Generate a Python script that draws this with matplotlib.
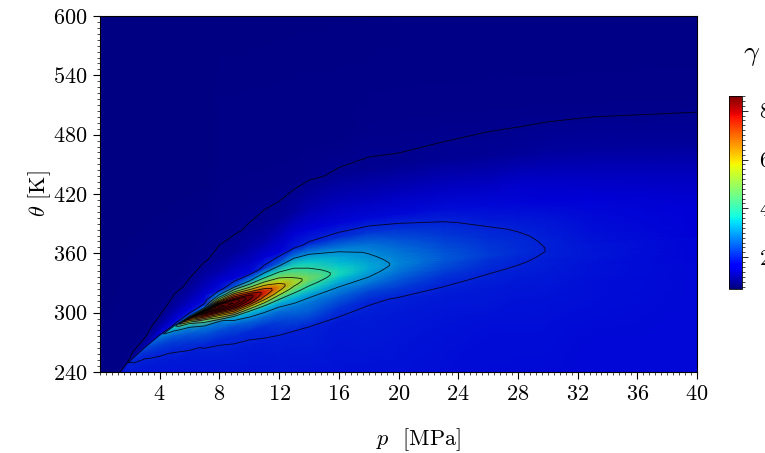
import numpy as np
import matplotlib
matplotlib.use("Agg")
import matplotlib.pyplot as plt
from matplotlib.colors import ListedColormap, Normalize
from matplotlib.cm import ScalarMappable
from matplotlib.ticker import MultipleLocator

plt.rcParams['font.family'] = 'serif'
plt.rcParams['font.serif'] = ['cmr10', 'DejaVu Serif']
plt.rcParams['mathtext.fontset'] = 'cm'
plt.rcParams['axes.formatter.use_mathtext'] = True

# ---- data ----
# pressure stations [MPa]
p_cols = [0, 1, 1.5, 2, 3, 4, 5, 6, 7, 8, 9, 10, 11, 12, 13, 14, 16, 18, 20, 23, 26, 28, 30, 33, 40]
# saturation / pseudo-critical ridge temperature at each station [K]
theta_ridge = [205, 233, 242, 252, 265, 277, 287, 295, 302, 307, 311, 316, 321, 326, 331, 335,
               341, 346, 350, 355, 359, 361, 363, 366, 372]
# temperature offsets from the ridge [K] (negative = liquid-like side)
theta_offsets = [-150, -100, -70, -50, -35, -24, -16, -10, -6, -3, -1,
                 1, 3, 6, 10, 16, 24, 35, 50, 70, 100, 140, 200, 280, 400]

# gamma along each pressure station, ordered as theta_offsets
g_p0 = [0.93, 0.93, 0.93, 0.93, 0.93, 0.93, 0.93, 0.93, 0.93, 0.93, 0.93,
        0.93, 0.93, 0.93, 0.93, 0.93, 0.93, 0.93, 0.92, 0.92, 0.91, 0.90, 0.90, 0.90, 0.90]
g_p1 = [1.90, 1.90, 1.90, 1.90, 1.90, 1.90, 1.90, 1.90, 1.90, 1.90, 1.90,
        0.94, 0.94, 0.93, 0.93, 0.93, 0.93, 0.93, 0.92, 0.92, 0.91, 0.90, 0.90, 0.90, 0.90]
g_p1_5 = [1.85, 1.85, 1.85, 1.86, 1.87, 1.88, 1.88, 1.89, 1.89, 1.90, 1.90,
          0.97, 0.96, 0.95, 0.94, 0.94, 0.93, 0.93, 0.93, 0.92, 0.92, 0.91, 0.90, 0.90, 0.90]
g_p2 = [1.82, 1.83, 1.84, 1.86, 1.88, 1.90, 1.92, 1.94, 1.96, 1.98, 2.02,
        1.02, 0.99, 0.97, 0.95, 0.94, 0.93, 0.93, 0.93, 0.92, 0.92, 0.91, 0.90, 0.90, 0.90]
g_p3 = [1.82, 1.82, 1.83, 1.84, 1.86, 1.90, 1.95, 2.02, 2.13, 2.27, 2.38,
        1.32, 1.20, 1.10, 0.99, 0.96, 0.94, 0.93, 0.93, 0.92, 0.92, 0.91, 0.90, 0.90, 0.90]
g_p4 = [1.82, 1.82, 1.83, 1.85, 1.90, 1.96, 2.07, 2.25, 2.43, 2.62, 2.76,
        1.72, 1.55, 1.38, 1.20, 1.04, 0.96, 0.94, 0.93, 0.92, 0.92, 0.91, 0.90, 0.90, 0.90]
g_p5 = [1.82, 1.82, 1.84, 1.87, 1.93, 2.03, 2.25, 2.55, 2.90, 3.30, 3.75,
        2.08, 1.85, 1.65, 1.45, 1.25, 1.08, 0.97, 0.94, 0.93, 0.92, 0.91, 0.90, 0.90, 0.90]
g_p6 = [1.82, 1.83, 1.85, 1.88, 1.96, 2.20, 2.50, 2.95, 4.00, 6.00, 7.80,
        3.40, 2.20, 1.85, 1.60, 1.40, 1.22, 1.02, 0.96, 0.93, 0.92, 0.91, 0.90, 0.90, 0.90]
g_p7 = [1.82, 1.83, 1.86, 1.92, 2.02, 2.40, 2.85, 4.50, 7.40, 10.5, 14.0,
        5.50, 3.00, 2.10, 1.80, 1.55, 1.37, 1.17, 0.99, 0.95, 0.92, 0.91, 0.90, 0.90, 0.90]
g_p8 = [1.82, 1.85, 1.90, 1.94, 2.03, 2.45, 2.90, 6.00, 9.00, 12.0, 13.6,
        12.3, 8.80, 5.60, 3.30, 1.85, 1.55, 1.25, 1.04, 0.97, 0.95, 0.93, 0.92, 0.91, 0.90]
g_p9 = [1.82, 1.85, 1.90, 1.94, 2.06, 2.45, 3.30, 6.60, 9.30, 11.0, 11.9,
        11.6, 9.40, 7.40, 5.00, 2.50, 1.68, 1.38, 1.08, 0.99, 0.95, 0.93, 0.92, 0.91, 0.90]
g_p10 = [1.82, 1.85, 1.90, 1.94, 2.08, 2.70, 3.40, 6.00, 8.20, 9.00, 9.45,
         9.35, 8.20, 6.50, 4.80, 3.00, 1.75, 1.42, 1.18, 1.01, 0.95, 0.93, 0.92, 0.91, 0.90]
g_p11 = [1.82, 1.85, 1.90, 1.96, 2.15, 2.75, 3.40, 5.35, 6.70, 7.35, 7.65,
         7.60, 7.10, 6.15, 5.00, 3.55, 2.15, 1.60, 1.24, 1.03, 0.96, 0.93, 0.92, 0.91, 0.90]
g_p12 = [1.82, 1.86, 1.92, 1.98, 2.25, 2.75, 3.30, 4.55, 5.55, 6.20, 6.45,
         6.40, 6.10, 5.55, 4.85, 3.85, 2.55, 1.70, 1.38, 1.05, 0.96, 0.93, 0.92, 0.91, 0.90]
g_p13 = [1.82, 1.86, 1.93, 1.99, 2.45, 2.85, 3.35, 4.15, 4.75, 5.15, 5.35,
         5.35, 5.15, 4.80, 4.40, 3.80, 3.00, 1.92, 1.55, 1.15, 0.96, 0.93, 0.92, 0.91, 0.90]
g_p14 = [1.82, 1.86, 1.94, 1.98, 2.50, 2.80, 3.20, 3.80, 4.20, 4.55, 4.70,
         4.70, 4.55, 4.30, 4.00, 3.55, 3.00, 2.05, 1.65, 1.28, 0.99, 0.94, 0.92, 0.91, 0.90]
g_p16 = [1.82, 1.86, 1.88, 1.91, 2.20, 2.60, 2.95, 3.25, 3.50, 3.65, 3.72,
         3.72, 3.65, 3.55, 3.40, 3.20, 2.85, 2.15, 1.72, 1.35, 1.01, 0.94, 0.92, 0.91, 0.90]
g_p18 = [1.82, 1.87, 1.93, 1.94, 2.02, 2.35, 2.75, 3.00, 3.12, 3.20, 3.24,
         3.24, 3.20, 3.15, 3.07, 2.95, 2.70, 2.20, 1.75, 1.35, 1.02, 0.95, 0.92, 0.91, 0.90]
g_p20 = [1.82, 1.85, 1.88, 1.93, 1.99, 2.25, 2.50, 2.68, 2.80, 2.86, 2.90,
         2.90, 2.88, 2.84, 2.78, 2.66, 2.45, 2.12, 1.78, 1.38, 1.02, 0.95, 0.93, 0.92, 0.90]
g_p23 = [1.80, 1.82, 1.85, 1.90, 1.95, 2.04, 2.20, 2.34, 2.42, 2.47, 2.50,
         2.50, 2.49, 2.46, 2.41, 2.33, 2.20, 2.03, 1.80, 1.42, 1.04, 0.95, 0.93, 0.92, 0.90]
g_p26 = [1.79, 1.81, 1.84, 1.88, 1.93, 1.97, 2.03, 2.10, 2.15, 2.20, 2.22,
         2.22, 2.21, 2.19, 2.16, 2.11, 2.04, 1.93, 1.76, 1.42, 1.06, 0.96, 0.93, 0.92, 0.90]
g_p28 = [1.78, 1.80, 1.83, 1.86, 1.90, 1.94, 1.98, 2.02, 2.05, 2.08, 2.10,
         2.10, 2.09, 2.08, 2.06, 2.03, 1.98, 1.90, 1.74, 1.48, 1.08, 0.96, 0.93, 0.92, 0.90]
g_p30 = [1.77, 1.79, 1.82, 1.85, 1.88, 1.91, 1.94, 1.96, 1.97, 1.98, 1.99,
         1.99, 1.99, 1.98, 1.97, 1.95, 1.92, 1.85, 1.70, 1.47, 1.12, 0.96, 0.93, 0.92, 0.90]
g_p33 = [1.76, 1.78, 1.80, 1.82, 1.84, 1.86, 1.87, 1.88, 1.88, 1.88, 1.88,
         1.88, 1.88, 1.87, 1.86, 1.84, 1.81, 1.75, 1.63, 1.43, 1.12, 0.97, 0.93, 0.92, 0.90]
g_p40 = [1.76, 1.77, 1.77, 1.77, 1.76, 1.75, 1.74, 1.73, 1.73, 1.72, 1.72,
         1.72, 1.72, 1.71, 1.70, 1.68, 1.65, 1.60, 1.50, 1.35, 1.10, 0.97, 0.94, 0.93, 0.92]

gamma_columns = [g_p0, g_p1, g_p1_5, g_p2, g_p3, g_p4, g_p5, g_p6, g_p7, g_p8, g_p9, g_p10,
                 g_p11, g_p12, g_p13, g_p14, g_p16, g_p18, g_p20, g_p23, g_p26, g_p28,
                 g_p30, g_p33, g_p40]

contour_levels = list(range(1, 16))
x_ticks = [4, 8, 12, 16, 20, 24, 28, 32, 36, 40]
y_ticks = [240, 300, 360, 420, 480, 540, 600]
cbar_ticks = [2, 4, 6, 8]
gamma_min, gamma_max = 0.7, 8.6

# ---- build mesh ----
X = np.tile(np.array(p_cols, float), (len(theta_offsets), 1))
Y = np.array(theta_ridge, float)[None, :] + np.array(theta_offsets, float)[:, None]
Z = np.column_stack(gamma_columns)

# shaded surface colours (slightly darker than the bar, as in the rendering)
jet = plt.get_cmap('jet')
cols = jet(np.linspace(0, 1, 256))
cols[:, :3] *= 0.84
surf_cmap = ListedColormap(cols)
norm = Normalize(gamma_min, gamma_max)

W, H = 765, 453
fig = plt.figure(figsize=(W / 100, H / 100), dpi=100)
ax = fig.add_axes([100 / W, 1 - 372 / H, 597 / W, 356 / H])

ax.pcolormesh(X, Y, Z, shading='gouraud', cmap=surf_cmap, norm=norm, rasterized=True)
ax.contour(X, Y, Z, levels=contour_levels, colors='k', linewidths=0.6, alpha=0.85)

ax.set_xlim(0, 40)
ax.set_ylim(240, 600)
ax.set_xticks(x_ticks)
ax.set_yticks(y_ticks)
ax.xaxis.set_minor_locator(MultipleLocator(0.4))
ax.yaxis.set_minor_locator(MultipleLocator(6))
ax.tick_params(which='both', direction='out', top=False, right=False)
ax.tick_params(which='major', length=5, width=0.8, labelsize=16, pad=4)
ax.tick_params(which='minor', length=2.5, width=0.5)
for s in ax.spines.values():
    s.set_linewidth(0.8)

ax.set_xlabel(r'$p$  [MPa]', fontsize=16)
ax.xaxis.set_label_coords(0.533, -0.152)
ax.set_ylabel(r'$\theta$ [K]', fontsize=16)
ax.yaxis.set_label_coords(-0.079, 0.5)

cax = fig.add_axes([729 / W, 1 - 289 / H, 13 / W, 193 / H])
cb = fig.colorbar(ScalarMappable(norm=norm, cmap='jet'), cax=cax)
cb.set_ticks(cbar_ticks)
cb.ax.yaxis.set_minor_locator(MultipleLocator(0.2))
cb.ax.tick_params(which='major', length=4, width=0.6, labelsize=16, pad=8)
cb.ax.tick_params(which='minor', length=2, width=0.5)
cb.outline.set_linewidth(0.6)
fig.text(752 / W, 1 - 55 / H, r'$\gamma$', fontsize=20, ha='center', va='center')

fig.savefig('out.png', dpi=100)
